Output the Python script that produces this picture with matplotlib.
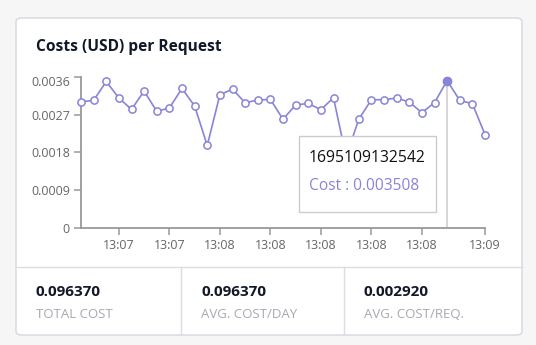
import matplotlib
matplotlib.use("Agg")
import matplotlib.pyplot as plt
import matplotlib.transforms as mtransforms
from matplotlib.patches import FancyBboxPatch, Rectangle
from matplotlib.lines import Line2D

plt.rcParams['font.family'] = ['Open Sans', 'DejaVu Sans']

# Per-request cost series (USD)
costs = [0.003005, 0.003036, 0.003486, 0.003092, 0.002823, 0.003258, 0.002776,
         0.002855, 0.003320, 0.002903, 0.001964, 0.003170, 0.003304, 0.002981,
         0.003044, 0.003060, 0.002587, 0.002927, 0.002965, 0.002815, 0.003100,
         0.001691, 0.002587, 0.003052, 0.003052, 0.003092, 0.002997, 0.002745,
         0.002981, 0.003508, 0.003036, 0.002957, 0.002224]
tick_idx = [3, 7, 11, 15, 19, 23, 27, 32]
tick_labels = ["13:07", "13:07", "13:08", "13:08", "13:08", "13:08", "13:08", "13:09"]
y_ticks = [0, 0.0009, 0.0018, 0.0027, 0.0036]
y_tick_labels = ["0", "0.0009", "0.0018", "0.0027", "0.0036"]

active_idx = 29
active_stamp = "1695109132542"

summary_values = ["0.096370", "0.096370", "0.002920"]
summary_labels = ["TOTAL COST", "AVG. COST/DAY", "AVG. COST/REQ."]

W, H = 536, 345
LINE = "#8884d8"

fig = plt.figure(figsize=(W / 100, H / 100), dpi=100)
fig.patch.set_facecolor("#f6f6f7")


def fx(px):
    return px / W


def fy(py):
    return 1 - py / H


# Card
card = FancyBboxPatch((fx(16), fy(335)), fx(522) - fx(16), fy(18) - fy(335),
                      boxstyle="round,pad=0,rounding_size=0.011",
                      transform=fig.transFigure, facecolor="white",
                      edgecolor="#d6d6de", linewidth=1.0, zorder=-5)
fig.patches.append(card)

fig.text(fx(36), fy(47), "Costs (USD) per Request", fontsize=11.2,
         fontweight="bold", color="#111827", ha="left", va="center")

# Chart area
ax = fig.add_axes([fx(81), fy(228), fx(485) - fx(81), fy(76.7) - fy(228)])
ax.set_zorder(1)
ax.set_facecolor("none")
x = list(range(len(costs)))
ax.plot(x, costs, color=LINE, linewidth=1.2, zorder=3, clip_on=False)
ax.plot(x, costs, linestyle="none", marker="o", markersize=5.2,
        markerfacecolor="white", markeredgecolor=LINE, markeredgewidth=1.1,
        zorder=4, clip_on=False)

# Hover cursor and active point
ax.axvline(active_idx, color="#cccccc", linewidth=1.1, zorder=2)
ax.plot([active_idx], [costs[active_idx]], marker="o", markersize=6,
        markerfacecolor=LINE, markeredgecolor=LINE, zorder=5, clip_on=False)

ax.set_xlim(0, len(costs) - 1)
ax.set_ylim(0, 0.0036)
ax.set_xticks(tick_idx)
ax.set_xticklabels(tick_labels)
ax.set_yticks(y_ticks)
ax.set_yticklabels(y_tick_labels)
ax.tick_params(axis="both", direction="out", length=5, width=1.1,
               color="#999999", labelcolor="#666666", labelsize=9.0, pad=3)
# keep the top y label inside the chart area
top_label = ax.get_yticklabels()[-1]
top_label.set_transform(top_label.get_transform() +
                        mtransforms.ScaledTranslation(0, -4.5 / 100, fig.dpi_scale_trans))
for s in ("top", "right"):
    ax.spines[s].set_visible(False)
for s in ("left", "bottom"):
    ax.spines[s].set_color("#999999")
    ax.spines[s].set_linewidth(1.3)

# Tooltip
tip = Rectangle((fx(298.5), fy(212)), fx(436) - fx(298.5), fy(135.5) - fy(212),
                transform=fig.transFigure, facecolor="white",
                edgecolor="#cccccc", linewidth=1.0, zorder=10)
fig.patches.append(tip)
fig.text(fx(309), fy(158), active_stamp, fontsize=11.3, color="#111111",
         ha="left", va="center", zorder=11)
fig.text(fx(309), fy(186), f"Cost : {costs[active_idx]:.6f}", fontsize=11.2,
         color=LINE, ha="left", va="center", zorder=11)

# Summary footer
fig.add_artist(Line2D([fx(16.5), fx(521.5)], [fy(267.3), fy(267.3)],
                      transform=fig.transFigure, color="#dcdce2", linewidth=1.0))
for xd in (180.7, 343.7):
    fig.add_artist(Line2D([fx(xd), fx(xd)], [fy(267.3), fy(334.5)],
                          transform=fig.transFigure, color="#dcdce2", linewidth=1.0))
for xs, val, lab in zip((36, 201, 364), summary_values, summary_labels):
    fig.text(fx(xs), fy(292.5), val, fontsize=11, fontweight="bold",
             color="#111827", ha="left", va="center")
    fig.text(fx(xs), fy(314), lab, fontsize=9.5, color="#a8a8b0",
             ha="left", va="center")

fig.savefig("out.png", dpi=100, facecolor=fig.get_facecolor())
